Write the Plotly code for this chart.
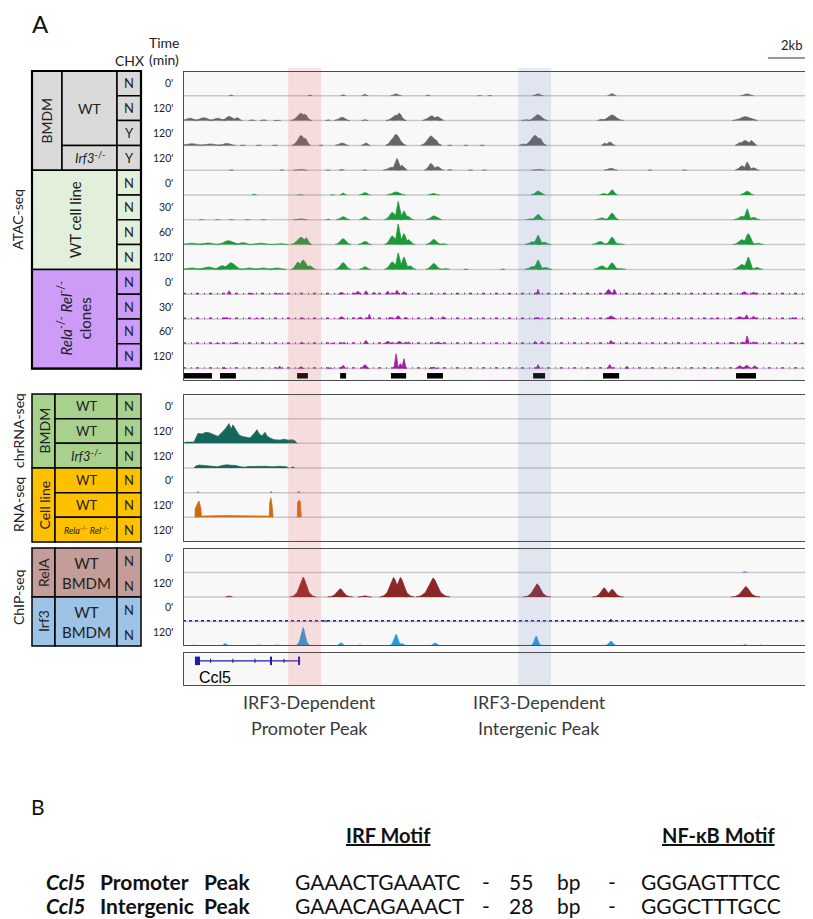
import plotly.graph_objects as go

W, H = 813, 919
FONT = "Lato, Open Sans, sans-serif"

# ---------------- data ----------------
# genomic window (kb from the left edge of the track boxes)
window_kb = [0.0, 27.43]
promoter_peak_kb = [4.57, 6.0]
intergenic_peak_kb = [14.57, 16.0]
scale_bar_kb = [25.43, 27.43]

# ATAC peak calls (start kb, end kb)
atac_peak_calls = [(0.04, 1.26), (1.61, 2.30), (4.96, 5.43), (6.83, 7.09), (9.04, 9.70),
                   (10.61, 11.30), (15.22, 15.74), (18.26, 18.96), (24.04, 24.91)]

# Ccl5 gene model
gene_span = [0.52, 5.09]
gene_exons = [(0.52, 0.74), (3.79, 3.87), (5.02, 5.09)]
gene_strand_marks = [1.2, 2.17, 3.13, 4.39]

# signal peaks: (centre kb, height as fraction of track, half width kb)
atac_bmdm_wt_n_0 = [(2.09, .04, .1), (5.52, .04, .1), (6.96, .05, .12), (7.91, .06, .15), (9.26, .08, .25),
                    (10.65, .04, .1), (12.9, .03, .1), (13.35, .03, .1), (15.43, .08, .25), (18.65, .09, .2),
                    (24.52, .08, .3)]
atac_bmdm_wt_n_120 = [(0.3, .10, .4), (0.9, .12, .45), (1.5, .10, .4), (2.0, .17, .35), (2.35, .12, .25),
                      (3.0, .04, .15), (3.5, .04, .15), (4.1, .03, .15), (5.13, .30, .45), (5.3, .26, .3),
                      (6.3, .04, .12), (6.91, .14, .35), (7.9, .05, .15), (9.26, .22, .45), (9.4, .30, .3),
                      (10.8, .19, .4), (11.05, .16, .3), (14.9, .05, .2), (15.43, .24, .45), (18.2, .06, .2),
                      (18.65, .23, .5), (24.43, .16, .55)]
atac_bmdm_wt_y_120 = [(0.4, .07, .5), (1.2, .06, .5), (1.9, .08, .4), (2.6, .03, .12), (3.3, .03, .12),
                      (4.0, .03, .12), (5.13, .40, .4), (5.3, .30, .25), (6.0, .03, .1), (6.91, .10, .3),
                      (7.95, .10, .2), (9.1, .25, .3), (9.26, .44, .45), (10.78, .38, .45), (10.95, .25, .3),
                      (11.6, .03, .1), (12.3, .03, .1), (13.0, .03, .1), (14.8, .06, .2), (15.3, .40, .5),
                      (15.5, .30, .3), (18.33, .10, .15), (18.55, .14, .25), (24.2, .12, .2), (24.43, .20, .4),
                      (24.7, .20, .25)]
atac_bmdm_irf3_y_120 = [(2.1, .03, .1), (4.3, .03, .1), (5.1, .04, .3), (6.3, .03, .1), (6.9, .04, .12),
                        (7.9, .03, .1), (9.05, .12, .35), (9.3, .47, .25), (9.5, .20, .25), (10.78, .27, .3),
                        (11.05, .15, .3), (11.6, .04, .1), (12.5, .03, .1), (13.1, .03, .1), (15.43, .04, .3),
                        (18.6, .08, .3), (20.3, .03, .1), (21.8, .03, .1), (24.3, .18, .3), (24.52, .33, .2),
                        (24.8, .10, .25)]
atac_cell_0 = [(3.1, .04, .1), (5.1, .03, .15), (6.5, .03, .1), (6.96, .08, .15), (7.91, .10, .25),
               (9.26, .13, .4), (10.9, .06, .25), (15.43, .16, .3), (18.3, .06, .2), (18.65, .21, .25),
               (24.52, .16, .3)]
atac_cell_30 = [(0.8, .03, .1), (1.5, .03, .1), (2.1, .03, .1), (2.8, .03, .1), (3.5, .03, .1), (5.1, .05, .3),
                (6.3, .04, .1), (6.96, .13, .3), (7.91, .13, .25), (9.1, .30, .35), (9.35, .74, .18),
                (9.6, .35, .25), (9.75, .15, .3), (10.9, .16, .35), (15.1, .05, .2), (15.43, .22, .3),
                (18.2, .08, .3), (18.65, .27, .3), (24.3, .15, .35), (24.52, .44, .2), (24.8, .10, .3)]
atac_cell_60 = [(0.4, .06, .5), (1.1, .07, .5), (1.96, .16, .5), (2.6, .08, .4), (3.4, .06, .5), (4.2, .05, .4),
                (5.13, .30, .45), (5.35, .28, .25), (6.96, .24, .35), (7.91, .13, .3), (9.1, .35, .35),
                (9.35, .83, .18), (9.6, .45, .25), (9.8, .20, .3), (10.9, .21, .35), (11.3, .05, .2),
                (15.2, .12, .35), (15.43, .38, .25), (15.7, .10, .3), (18.13, .13, .35), (18.65, .30, .3),
                (18.9, .05, .3), (24.3, .20, .4), (24.57, .44, .3), (25.0, .06, .25)]
atac_cell_120 = [(0.4, .06, .5), (1.1, .10, .5), (1.7, .15, .4), (2.09, .27, .5), (2.9, .06, .4),
                 (3.5, .06, .4), (4.1, .06, .4), (5.0, .30, .3), (5.22, .38, .35), (5.5, .15, .3),
                 (6.96, .27, .35), (7.91, .11, .25), (9.1, .30, .35), (9.35, .67, .18), (9.6, .50, .25),
                 (9.85, .15, .3), (10.9, .24, .35), (11.4, .05, .2), (12.3, .03, .1), (13.9, .03, .1),
                 (15.2, .12, .35), (15.43, .38, .25), (15.75, .08, .3), (18.2, .15, .35), (18.65, .27, .3),
                 (19.0, .05, .25), (24.3, .20, .4), (24.57, .50, .25), (24.95, .08, .25)]
atac_rela_0 = [(2.0, .14, .1), (3.0, .05, .1), (4.2, .05, .1), (6.9, .08, .15), (7.6, .12, .15),
               (7.95, .14, .1), (8.3, .08, .1), (8.9, .12, .12), (9.3, .16, .12), (9.6, .10, .12),
               (15.43, .20, .08), (18.5, .20, .2), (18.75, .20, .1), (24.4, .10, .2), (24.8, .08, .15)]
atac_rela_30 = [(1.9, .06, .15), (3.2, .05, .1), (5.2, .05, .1), (6.9, .10, .15), (7.7, .08, .15),
                (8.1, .20, .08), (9.0, .08, .1), (9.35, .14, .15), (9.7, .06, .1), (10.8, .08, .1),
                (11.3, .10, .1), (15.43, .06, .15), (18.6, .13, .25), (23.0, .04, .1), (24.2, .10, .2),
                (24.5, .16, .12), (24.8, .12, .12), (26.5, .06, .1)]
atac_rela_60 = [(1.5, .05, .1), (2.2, .05, .1), (5.2, .04, .1), (6.5, .05, .1), (7.0, .07, .1),
                (7.95, .14, .12), (8.9, .10, .2), (9.4, .10, .2), (9.8, .08, .1), (11.1, .07, .2),
                (15.3, .10, .1), (15.6, .10, .1), (18.6, .14, .12), (23.9, .06, .1), (24.3, .08, .1),
                (24.52, .32, .1), (24.8, .08, .15), (26.9, .05, .1)]
atac_rela_120 = [(1.8, .05, .1), (4.2, .10, .1), (5.13, .08, .15), (6.4, .05, .1), (6.96, .13, .15),
                 (7.91, .16, .2), (9.26, .60, .12), (9.45, .20, .15), (9.6, .40, .12), (10.9, .06, .2),
                 (15.43, .16, .1), (18.55, .16, .12), (19.3, .10, .08), (24.2, .12, .2), (24.5, .14, .2),
                 (24.85, .12, .15)]

# RNA coverage profiles: (kb, height as fraction of track); None splits blocks
chr_wt_0 = []
chr_wt_120 = [(0.0, 0), (0.13, .05), (0.48, .05), (0.57, .25), (0.65, .40), (0.83, .38), (1.0, .45),
              (1.17, .42), (1.35, .36), (1.52, .28), (1.7, .45), (1.87, .62), (2.0, .80), (2.09, .58),
              (2.17, .75), (2.3, .55), (2.43, .35), (2.57, .28), (2.74, .25), (2.91, .22), (3.09, .40),
              (3.22, .55), (3.3, .40), (3.43, .30), (3.57, .45), (3.65, .30), (3.78, .22), (3.96, .15),
              (4.22, .13), (4.39, .17), (4.57, .13), (4.74, .15), (4.87, .10), (4.96, 0)]
chr_irf3_120 = [(0.48, 0), (0.55, .08), (0.7, .12), (0.9, .10), (1.1, .08), (1.3, .06), (1.5, .05),
                (1.7, .10), (1.9, .13), (2.1, .11), (2.3, .10), (2.5, .05), (2.7, .03), (2.8, .06),
                (3.0, .07), (3.3, .06), (3.6, .07), (3.9, .05), (4.2, .07), (4.5, .05), (4.6, 0), None,
                (4.7, 0), (4.72, .04), (4.82, .04), (4.84, 0)]
rna_wt_0 = [(0.62, 0), (0.63, .04), (0.68, .04), (0.69, 0), None, (3.8, 0), (3.81, .04), (3.86, .04),
            (3.87, 0), None, (4.98, 0), (4.99, .04), (5.06, .04), (5.07, 0)]
rna_wt_120 = [(0.52, 0), (0.53, .35), (0.58, .45), (0.62, .55), (0.66, .62), (0.70, .66), (0.74, .50),
              (0.78, .35), (0.80, .08), (0.83, .05), (1.8, .07), (2.9, .06), (3.7, .05), (3.75, .05),
              (3.77, .60), (3.82, .80), (3.87, .50), (3.90, .10), (3.92, 0), None,
              (4.97, 0), (4.98, .60), (5.05, .70), (5.10, .65), (5.14, 0)]
rna_rela_120 = [(0.68, 0), (0.69, .03), (0.73, .03), (0.74, 0), None, (3.81, 0), (3.82, .03), (3.86, .03),
                (3.87, 0), None, (4.98, 0), (4.99, .04), (5.05, .04), (5.06, 0)]

# ChIP peaks: (centre kb, height fraction, half width kb)
chip_rela_0 = [(24.43, .05, .12)]
chip_rela_120 = [(2.0, .04, .15), (5.22, .81, .57), (6.83, .34, .55), (7.91, .05, .3), (9.15, .80, .6),
                 (9.45, .80, .6), (10.87, .78, .74), (15.39, .54, .6), (18.3, .38, .5), (18.65, .32, .5),
                 (24.46, .43, .63)]
chip_irf3_0 = [(6.2, .05, .1), (18.6, .10, .12)]
chip_irf3_120 = [(0.5, .04, .2), (1.83, .10, .25), (3.3, .04, .3), (4.1, .04, .3), (5.22, .75, .36),
                 (6.87, .13, .3), (7.7, .05, .2), (9.26, .48, .35), (9.5, .10, .3), (10.96, .12, .35),
                 (15.35, .41, .3), (18.6, .20, .35), (24.43, .06, .2), (25.13, .05, .12)]

# sample annotation
atac_times = ["0'", "120'", "120'", "120'", "0'", "30'", "60'", "120'", "0'", "30'", "60'", "120'"]
atac_chx = ["N", "N", "Y", "Y", "N", "N", "N", "N", "N", "N", "N", "N"]
rna_times = ["0'", "120'", "120'", "0'", "120'", "120'"]
rna_geno = ["WT", "WT", "<i>Irf3</i><sup>-/-</sup>", "WT", "WT", "<i>Rela</i><sup>-/-</sup> <i>Rel</i><sup>-/-</sup>"]
chip_times = ["0'", "120'", "0'", "120'"]

# motif table (panel B)
motif_peaks = ["Promoter", "Intergenic"]
irf_motifs = ["GAAACTGAAATC", "GAAACAGAAACT"]
spacer_bp = ["55", "28"]
nfkb_motifs = ["GGGAGTTTCC", "GGGCTTTGCC"]

# ---------------- style ----------------
GRAY, GREEN, PURPLE = "#656565", "#1c9a3a", "#a01ca8"
TEAL, ORANGE = "#15675c", "#cf6a10"
MAROON, NAVY, SKY = "#8a2727", "#24248c", "#2b98d8"
T_GRAY, T_LGREEN, T_PURPLE = "#d9d9d9", "#e2efda", "#cc9cf7"
T_GREEN, T_ORANGE, T_ROSE, T_BLUE = "#a9d18e", "#ffc000", "#c49c98", "#9dc3e6"

MOUND_X = [-1, -0.7, -0.45, -0.25, -0.1, 0, 0.1, 0.25, 0.45, 0.7, 1]
MOUND_ATAC = [0, 0.14, 0.42, 0.78, 0.95, 1, 0.95, 0.78, 0.42, 0.14, 0]
MOUND_CHIP = [0, 0.06, 0.24, 0.6, 0.9, 1, 0.9, 0.6, 0.24, 0.06, 0]

# pixel boxes of the three panels of tracks
ATAC_BOX = (63, 373)
RNA_BOX = (386, 534)
CHIP_BOX = (540, 638)
GENE_BOX = (644, 678)
X_LEFT, X_RIGHT = 175, 806


def ydom(top, bot):
    return [1 - bot / H, 1 - top / H]


def mound_xy(peaks, base, prof):
    xs, ys = [], []
    for c, h, w in peaks:
        for dx, dy in zip(MOUND_X, prof):
            xs.append(c + dx * w)
            ys.append(base - dy * h)
        xs.append(None)
        ys.append(None)
    return xs, ys


def profile_xy(points, base):
    xs, ys, seg = [], [], []
    for p in points + [None]:
        if p is None:
            if seg:
                xs += [seg[0][0]] + [q[0] for q in seg] + [seg[-1][0], None]
                ys += [base] + [base - q[1] for q in seg] + [base, None]
            seg = []
        else:
            seg.append(p)
    return xs, ys


fig = go.Figure()


def add_signal(xs, ys, color, yax):
    fig.add_trace(go.Scatter(x=xs, y=ys, mode="lines", fill="toself", fillcolor=color,
                             line=dict(color=color, width=0.7), hoverinfo="skip",
                             xaxis="x", yaxis=yax))


def add_noise(base, color, yax, dash="2px,4px", width=1.5):
    fig.add_trace(go.Scatter(x=window_kb, y=[base, base], mode="lines",
                             line=dict(color=color, width=width, dash=dash),
                             hoverinfo="skip", xaxis="x", yaxis=yax))


shapes = []
annos = []


def panel_box(yax, n_tracks, total):
    shapes.append(dict(type="rect", xref="x", yref=yax, x0=window_kb[0], x1=window_kb[1], y0=0, y1=total,
                       fillcolor="#f8f8f8", line=dict(width=0), layer="below"))
    for i in range(1, n_tracks + 1):
        if i < total:
            shapes.append(dict(type="line", xref="x", yref=yax, x0=window_kb[0], x1=window_kb[1], y0=i, y1=i,
                               line=dict(color="#c9c9c9", width=1.5), layer="below"))


# --- ATAC ---
atac_tracks = [(atac_bmdm_wt_n_0, GRAY), (atac_bmdm_wt_n_120, GRAY), (atac_bmdm_wt_y_120, GRAY),
               (atac_bmdm_irf3_y_120, GRAY), (atac_cell_0, GREEN), (atac_cell_30, GREEN),
               (atac_cell_60, GREEN), (atac_cell_120, GREEN), (atac_rela_0, PURPLE),
               (atac_rela_30, PURPLE), (atac_rela_60, PURPLE), (atac_rela_120, PURPLE)]
panel_box("y", 12, 12.5)
for i, (peaks, col) in enumerate(atac_tracks):
    if col == PURPLE:
        add_noise(i + 1 - 0.03, col, "y", dash="3px,5px,1px,4px", width=1.4)
    xs, ys = mound_xy(peaks, i + 1, MOUND_ATAC)
    add_signal(xs, ys, col, "y")

fig.add_trace(go.Bar(orientation="h", y=[12.29] * len(atac_peak_calls),
                     x=[e - s for s, e in atac_peak_calls], base=[s for s, e in atac_peak_calls],
                     width=0.22, marker=dict(color="black", line=dict(width=0)),
                     hoverinfo="skip", xaxis="x", yaxis="y"))

# --- RNA ---
panel_box("y2", 6, 6)
for i, (prof, col) in enumerate([(chr_wt_0, TEAL), (chr_wt_120, TEAL), (chr_irf3_120, TEAL),
                                 (rna_wt_0, ORANGE), (rna_wt_120, ORANGE), (rna_rela_120, ORANGE)]):
    if prof:
        xs, ys = profile_xy(prof, i + 1)
        add_signal(xs, ys, col, "y2")

# --- ChIP ---
panel_box("y3", 4, 4)
add_noise(3 - 0.03, NAVY, "y3", dash="3px,3px", width=1.4)
for i, (peaks, col) in enumerate([(chip_rela_0, "#9b6fd0"), (chip_rela_120, MAROON),
                                  (chip_irf3_0, NAVY), (chip_irf3_120, SKY)]):
    xs, ys = mound_xy(peaks, i + 1, MOUND_CHIP)
    add_signal(xs, ys, col, "y3")

# --- gene ---
shapes.append(dict(type="rect", xref="x", yref="y4", x0=window_kb[0], x1=window_kb[1], y0=0, y1=1,
                   fillcolor="#f8f8f8", line=dict(width=0), layer="below"))
fig.add_trace(go.Scatter(x=gene_span, y=[0.26, 0.26], mode="lines", line=dict(color="#1c1cb4", width=1.2),
                         hoverinfo="skip", xaxis="x", yaxis="y4"))
fig.add_trace(go.Scatter(x=gene_strand_marks, y=[0.26] * len(gene_strand_marks), mode="markers",
                         marker=dict(symbol="line-ns", size=3, line=dict(color="#1c1cb4", width=1)),
                         hoverinfo="skip", xaxis="x", yaxis="y4"))
fig.add_trace(go.Bar(orientation="h", y=[0.26] * len(gene_exons), x=[e - s for s, e in gene_exons],
                     base=[s for s, e in gene_exons], width=0.25,
                     marker=dict(color="#1c1cb4", line=dict(width=0)),
                     hoverinfo="skip", xaxis="x", yaxis="y4"))
annos.append(dict(x=1.4, y=0.74, xref="x", yref="y4", text="Ccl5", showarrow=False,
                  font=dict(family="Liberation Sans, Arial", size=16, color="black")))

# shading of the two IRF3-dependent peaks
for (x0, x1), fc in [(promoter_peak_kb, "rgba(240,100,100,0.18)"), (intergenic_peak_kb, "rgba(100,130,200,0.16)")]:
    shapes.append(dict(type="rect", xref="x", yref="y5", x0=x0, x1=x1, y0=60, y1=678,
                       fillcolor=fc, line=dict(width=0), layer="above"))

# panel borders
for yax, total in [("y", 12.5), ("y2", 6), ("y3", 4), ("y4", 1)]:
    shapes.append(dict(type="rect", xref="x", yref=yax, x0=window_kb[0], x1=window_kb[1], y0=0, y1=total,
                       line=dict(color="#4d4d4d", width=2), layer="above"))

# scale bar
shapes.append(dict(type="line", xref="x", yref="y5", x0=scale_bar_kb[0], x1=scale_bar_kb[1], y0=50, y1=50,
                   line=dict(color="#333333", width=1.2)))
annos.append(dict(x=sum(scale_bar_kb) / 2, y=37, xref="x", yref="y5", text="2kb", showarrow=False,
                  font=dict(family=FONT, size=13, color="#222")))

# peak labels
for (x0, x1), l1, l2 in [(promoter_peak_kb, "IRF3-Dependent", "Promoter Peak"),
                         (intergenic_peak_kb, "IRF3-Dependent", "Intergenic Peak")]:
    for yy, t in [(694, l1), (720, l2)]:
        annos.append(dict(x=(x0 + x1) / 2 + 0.2, y=yy, xref="x", yref="y5", text=t, showarrow=False,
                          font=dict(family=FONT, size=18, color="#3a3a3a")))


# ---------------- left table (pixel coordinates) ----------------
def cell(x0, y0, x1, y1, fill, lw=1.5):
    shapes.append(dict(type="rect", xref="x2", yref="y5", x0=x0, x1=x1, y0=y0, y1=y1,
                       fillcolor=fill, line=dict(color="black", width=lw), layer="below"))


def txt(x, y, t, size=14, angle=0, anchor="center", color="#222", family=FONT):
    annos.append(dict(x=x, y=y, xref="x2", yref="y5", text=t, showarrow=False, textangle=angle,
                      xanchor=anchor, yanchor="middle", borderpad=0,
                      font=dict(family=family, size=size, color=color)))


C0, C1, C2, C3 = 24, 54, 109, 133
a_top, a_h = ATAC_BOX[0], (ATAC_BOX[1] - ATAC_BOX[0]) / 12.5
ar = [a_top + i * a_h for i in range(13)]
cell(C0, ar[0], C1, ar[4], T_GRAY)
cell(C1, ar[0], C2, ar[3], T_GRAY)
cell(C1, ar[3], C2, ar[4], T_GRAY)
cell(C0, ar[4], C2, ar[8], T_LGREEN)
cell(C0, ar[8], C2, ar[12], T_PURPLE)
for i in range(12):
    fill = T_GRAY if i < 4 else (T_LGREEN if i < 8 else T_PURPLE)
    cell(C2, ar[i], C3, ar[i + 1], fill)
    txt((C2 + C3) / 2, (ar[i] + ar[i + 1]) / 2, atac_chx[i], 13)
    txt(166, (ar[i] + ar[i + 1]) / 2, atac_times[i], 10.5, anchor="right")
shapes.append(dict(type="rect", xref="x2", yref="y5", x0=C0, x1=C3, y0=ar[0], y1=ar[12],
                   line=dict(color="black", width=2.2), layer="below"))
txt((C0 + C1) / 2, (ar[0] + ar[4]) / 2, "BMDM", 14, -90)
txt((C1 + C2) / 2, (ar[0] + ar[3]) / 2, "WT", 14)
txt((C1 + C2) / 2, (ar[3] + ar[4]) / 2, "<i>Irf3</i><sup>-/-</sup>", 13)
txt((C0 + C2) / 2, (ar[4] + ar[8]) / 2, "WT cell line", 15, -90)
txt((C0 + C2) / 2, (ar[8] + ar[12]) / 2,
    "<i>Rela</i><sup>-/-</sup> <i>Rel</i><sup>-/-</sup><br>clones", 15, -90)
txt(10, (ar[0] + ar[12]) / 2, "ATAC-seq", 14, -90)

# RNA table
R1 = 47
r_top, r_h = RNA_BOX[0], (RNA_BOX[1] - RNA_BOX[0]) / 6
rr = [r_top + i * r_h for i in range(7)]
cell(C0, rr[0], R1, rr[3], T_GREEN)
cell(C0, rr[3], R1, rr[6], T_ORANGE)
for i in range(6):
    fill = T_GREEN if i < 3 else T_ORANGE
    cell(R1, rr[i], C2, rr[i + 1], fill)
    cell(C2, rr[i], C3, rr[i + 1], fill)
    yc = (rr[i] + rr[i + 1]) / 2
    txt((R1 + C2) / 2, yc, rna_geno[i], 9 if i == 5 else 13)
    txt((C2 + C3) / 2, yc, "N", 13)
    txt(166, yc, rna_times[i], 10.5, anchor="right")
txt((C0 + R1) / 2, (rr[0] + rr[3]) / 2, "BMDM", 14, -90)
txt((C0 + R1) / 2, (rr[3] + rr[6]) / 2, "Cell line", 14, -90)
txt(10, (rr[0] + rr[3]) / 2, "chrRNA-seq", 14, -90)
txt(10, (rr[3] + rr[6]) / 2, "RNA-seq", 14, -90)

# ChIP table
c_top, c_h = CHIP_BOX[0], (CHIP_BOX[1] - CHIP_BOX[0]) / 4
cr = [c_top + i * c_h for i in range(5)]
for k, (fill, factor) in enumerate([(T_ROSE, "RelA"), (T_BLUE, "Irf3")]):
    y0, y1 = cr[2 * k], cr[2 * k + 2]
    cell(C0, y0, R1, y1, fill)
    cell(R1, y0, C2, y1, fill)
    cell(C2, y0, C3, y1, fill)
    txt((C0 + R1) / 2, (y0 + y1) / 2, factor, 14, -90)
    txt((R1 + C2) / 2, (y0 + y1) / 2, "WT<br>BMDM", 15)
    for j in range(2):
        yc = (cr[2 * k + j] + cr[2 * k + j + 1]) / 2
        txt((C2 + C3) / 2, yc + 1, "N", 13)
        txt(166, yc - 2, chip_times[2 * k + j], 10.5, anchor="right")
txt(10, (cr[0] + cr[4]) / 2, "ChIP-seq", 14, -90)

# headers
txt(32, 15, "A", 24, color="#111")
txt((C2 + C3) / 2, 52, "CHX", 14)
txt(156, 34, "Time", 14)
txt(156, 51, "(min)", 14)

# ---------------- panel B ----------------
txt(30, 798, "B", 21, color="#111")
txt(380, 827, "<b><u>IRF Motif</u></b>", 20, color="#111")
txt(710, 827, "<b><u>NF-\u03baB Motif</u></b>", 20, color="#111")
for k, yy in enumerate([873, 897]):
    txt(37, yy, "<b><i>Ccl5</i></b>", 21, anchor="left", color="#111")
    txt(91, yy, "<b>" + motif_peaks[k] + "</b>", 21, anchor="left", color="#111")
    txt(195, yy, "<b>Peak</b>", 21, anchor="left", color="#111")
    txt(286, yy, irf_motifs[k], 21, anchor="left", color="#111")
    txt(478, yy, "-", 21, color="#111")
    txt(513, yy, spacer_bp[k], 21, color="#111")
    txt(561, yy, "bp", 21, color="#111")
    txt(604, yy, "-", 21, color="#111")
    txt(632, yy, nfkb_motifs[k], 21, anchor="left", color="#111")

# ---------------- layout ----------------
hidden = dict(visible=False, showgrid=False, zeroline=False)
fig.update_layout(
    width=W, height=H, margin=dict(l=0, r=0, t=0, b=0),
    paper_bgcolor="white", plot_bgcolor="rgba(0,0,0,0)",
    showlegend=False, barmode="overlay",
    xaxis=dict(domain=[X_LEFT / W, X_RIGHT / W], range=window_kb, anchor="y", **hidden),
    yaxis=dict(domain=ydom(*ATAC_BOX), range=[12.5, 0], anchor="x", **hidden),
    yaxis2=dict(domain=ydom(*RNA_BOX), range=[6, 0], anchor="x", **hidden),
    yaxis3=dict(domain=ydom(*CHIP_BOX), range=[4, 0], anchor="x", **hidden),
    yaxis4=dict(domain=ydom(*GENE_BOX), range=[1, 0], anchor="x", **hidden),
    xaxis2=dict(domain=[0, 1], range=[0, W], anchor="y5", **hidden),
    yaxis5=dict(domain=[0, 1], range=[H, 0], anchor="x2", **hidden),
    shapes=shapes, annotations=annos,
)

fig.write_html("out.html")
